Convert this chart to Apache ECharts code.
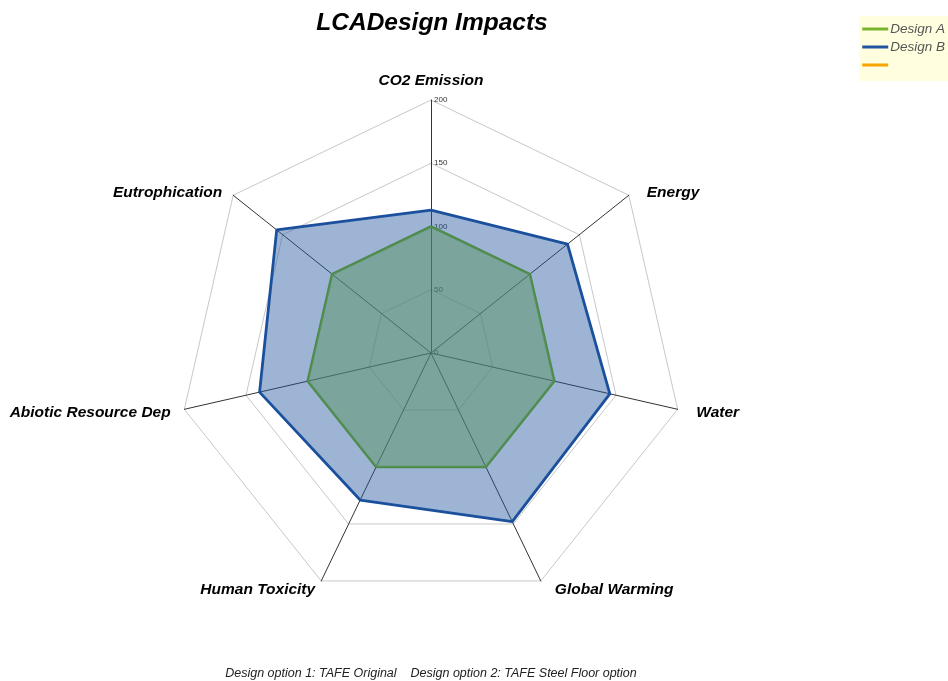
<!DOCTYPE html>
<html><head><meta charset="utf-8">
<script src="https://cdn.jsdelivr.net/npm/echarts@6/dist/echarts.min.js"></script>
<style>html,body{margin:0;padding:0;background:#fff}#c{width:948px;height:681px}</style>
</head><body><div id="c"></div>
<script>
const categories = ['CO2 Emission','Energy','Water','Global Warming','Human Toxicity','Abiotic Resource Dep','Eutrophication'];
const designA = [100,100,100,100,100,100,100];
const designB = [113,138,145,148,129,139,156];
const axisMax = 200;
const legendNames = ['Design A','Design B',' '];
const footer = 'Design option 1: TAFE Original    Design option 2: TAFE Steel Floor option';

// ECharts lays indicators counter-clockwise; reorder so categories run clockwise
const order = [0,6,5,4,3,2,1];
const reorder = arr => order.map(i => arr[i]);
// label nudges per category (style only)
const nameStyle = [
  {padding:[0,0,-3,0]},
  {verticalAlign:'top', padding:[-2,0,0,7]},
  {padding:[0,0,0,5]},
  {verticalAlign:'bottom', padding:[0,0,-4,8]},
  {verticalAlign:'bottom', padding:[0,0,-4,0]},
  {padding:[0,0,0,0]},
  {verticalAlign:'top', padding:[-2,0,0,0]}
];

const chart = echarts.init(document.getElementById('c'));
const indicator = order.map((idx,i)=>{
  const o = {name:categories[idx], min:0, max:axisMax, nameTextStyle:nameStyle[idx]};
  if(i===0) o.axisLabel = {show:true};
  return o;
});
chart.setOption({
  backgroundColor:'#ffffff',
  animation:false,
  title:[{
    text:'LCADesign Impacts', left:427, top:6, textAlign:'center',
    textStyle:{fontFamily:'Liberation Sans',fontSize:24.5,fontWeight:'bold',fontStyle:'italic',color:'#000'}
  },{
    text:footer, left:431, top:667, textAlign:'center', padding:0,
    textStyle:{fontFamily:'Liberation Sans',fontSize:12.5,fontWeight:'normal',fontStyle:'italic',color:'#222'}
  }],
  legend:{
    orient:'vertical', right:0, top:16,
    backgroundColor:'#ffffe0', padding:[6,3,9,3],
    itemWidth:26, itemHeight:3, itemGap:4, icon:'rect',
    textStyle:{fontFamily:'Liberation Sans',fontSize:13.5,fontStyle:'italic',color:'#555',padding:[0,0,0,-3]},
    data:[
      {name:legendNames[0], itemStyle:{color:'#78b32a'}},
      {name:legendNames[1], itemStyle:{color:'#1f55a0'}},
      {name:legendNames[2], itemStyle:{color:'#f7a300'}}
    ]
  },
  radar:{
    center:[431,353], radius:253, shape:'polygon', splitNumber:4,
    startAngle:90,
    nameGap:14,
    axisName:{fontFamily:'Liberation Sans',fontSize:15.5,fontWeight:'bold',fontStyle:'italic',color:'#000'},
    axisLine:{lineStyle:{color:'#333',width:1}},
    splitLine:{lineStyle:{color:'#c8c8c8',width:1}},
    splitArea:{show:false},
    axisTick:{show:false},
    axisLabel:{show:false,fontSize:8,color:'#333',margin:-3,align:'left',verticalAlign:'middle',fontFamily:'Liberation Sans'},
    indicator:indicator
  },
  series:[{
    type:'radar', name:legendNames[1], symbol:'none', z:2,
    color:'#1f55a0',
    lineStyle:{color:'#1a4f9c',width:2.8},
    areaStyle:{color:'rgba(31,85,160,0.44)',opacity:1},
    data:[{name:legendNames[1], value:reorder(designB)}]
  },{
    type:'radar', name:legendNames[0], symbol:'none', z:3,
    color:'#78b32a',
    lineStyle:{color:'#4e8a4a',width:2.5},
    areaStyle:{color:'rgba(89,149,99,0.5)',opacity:1},
    data:[{name:legendNames[0], value:reorder(designA)}]
  },{
    type:'radar', name:legendNames[2], symbol:'none',
    color:'#f7a300',
    data:[]
  }]
});
</script></body></html>
